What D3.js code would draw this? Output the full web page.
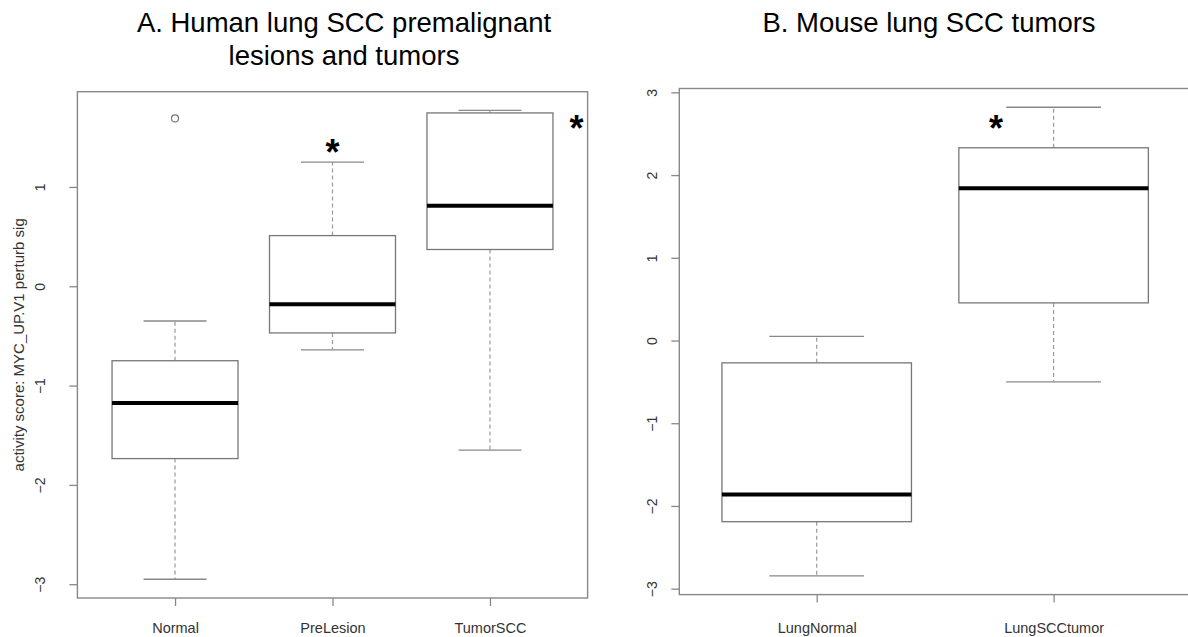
<!DOCTYPE html>
<html>
  <head>
    <meta charset="utf-8" />
    <script src="https://d3js.org/d3.v7.min.js"></script>
    <style>
      body { margin: 0; background: #fff; }
      svg text { font-family: "Liberation Sans", Arial, sans-serif; }
    </style>
  </head>
  <body>
    <div id="chart"></div>
    <script>
      // panel A: human lung SCC
      var groupsA = ['Normal', 'PreLesion', 'TumorSCC'];
      var lowA = [-2.95, -0.64, -1.65];
      var q1A = [-1.735, -0.47, 0.37];
      var medA = [-1.175, -0.18, 0.81];
      var q3A = [-0.75, 0.51, 1.745];
      var highA = [-0.35, 1.25, 1.77];
      var outGroupA = ['Normal'];
      var outValueA = [1.69];
      var ticksA = [-3, -2, -1, 0, 1];
      // stars: x in group units (1..n), y in data units
      var starXA = [2, 3.55];
      var starYA = [1.44, 1.68];

      // panel B: mouse lung SCC
      var groupsB = ['LungNormal', 'LungSCCtumor'];
      var lowB = [-2.845, -0.5];
      var q1B = [-2.19, 0.455];
      var medB = [-1.86, 1.84];
      var q3B = [-0.27, 2.33];
      var highB = [0.05, 2.82];
      var outGroupB = [];
      var outValueB = [];
      var ticksB = [-3, -2, -1, 0, 1, 2, 3];
      var starXB = [1.757];
      var starYB = [2.67];

      var width = 1188,
        height = 637;

      var svg = d3
        .select('#chart')
        .append('svg')
        .attr('width', width)
        .attr('height', height);

      function drawPanel(p) {
        var n = p.groups.length;
        // R style limits: 4% padding
        var ext = d3.extent(p.low.concat(p.high, p.outValue));
        var pad = (ext[1] - ext[0]) * 0.04;
        var y = d3
          .scaleLinear()
          .domain([ext[0] - pad, ext[1] + pad])
          .range([p.bottom, p.top]);
        var x = d3
          .scaleLinear()
          .domain([0.5 - 0.04 * n, n + 0.5 + 0.04 * n])
          .range([p.left, p.right]);

        var g = svg.append('g');
        var idx = d3.range(n);

        // whiskers
        g.selectAll('.whi')
          .data(idx)
          .join('g')
          .each(function (i) {
            var s = d3.select(this);
            var cx = x(i + 1);
            s.append('line')
              .attr('x1', cx).attr('x2', cx)
              .attr('y1', y(p.q3[i])).attr('y2', y(p.high[i]));
            s.append('line')
              .attr('x1', cx).attr('x2', cx)
              .attr('y1', y(p.q1[i])).attr('y2', y(p.low[i]));
          })
          .selectAll('line')
          .attr('stroke', '#999')
          .attr('stroke-width', 1.2)
          .attr('stroke-dasharray', '4,3');

        // caps
        [p.low, p.high].forEach(function (arr) {
          g.selectAll(null)
            .data(idx)
            .join('line')
            .attr('x1', (i) => x(i + 1 - 0.2))
            .attr('x2', (i) => x(i + 1 + 0.2))
            .attr('y1', (i) => y(arr[i]))
            .attr('y2', (i) => y(arr[i]))
            .attr('stroke', '#888')
            .attr('stroke-width', 1.3);
        });

        // boxes
        g.selectAll('.box')
          .data(idx)
          .join('rect')
          .attr('x', (i) => x(i + 1 - 0.4))
          .attr('width', (i) => x(i + 1 + 0.4) - x(i + 1 - 0.4))
          .attr('y', (i) => y(p.q3[i]))
          .attr('height', (i) => y(p.q1[i]) - y(p.q3[i]))
          .attr('fill', 'white')
          .attr('stroke', '#777')
          .attr('stroke-width', 1.3);

        // medians
        g.selectAll('.med')
          .data(idx)
          .join('line')
          .attr('x1', (i) => x(i + 1 - 0.4))
          .attr('x2', (i) => x(i + 1 + 0.4))
          .attr('y1', (i) => y(p.med[i]))
          .attr('y2', (i) => y(p.med[i]))
          .attr('stroke', '#000')
          .attr('stroke-width', 4);

        // outliers
        g.selectAll('.out')
          .data(p.outValue)
          .join('circle')
          .attr('cx', (d, j) => x(p.groups.indexOf(p.outGroup[j]) + 1))
          .attr('cy', (d) => y(d))
          .attr('r', 3.5)
          .attr('fill', 'none')
          .attr('stroke', '#777')
          .attr('stroke-width', 1.2);

        // y axis
        var ya = g
          .append('g')
          .attr('transform', 'translate(' + p.left + ',0)')
          .call(
            d3.axisLeft(y)
              .tickValues(p.ticks)
              .tickFormat(d3.format('d'))
              .tickSize(8)
              .tickSizeOuter(0)
          );
        ya.select('.domain').remove();
        ya.selectAll('line').attr('stroke', '#888').attr('stroke-width', 1.3);
        ya.selectAll('text')
          .attr('x', null)
          .attr('dy', null)
          .attr('transform', 'translate(' + -p.labelOff + ',0) rotate(-90)')
          .attr('text-anchor', 'middle')
          .attr('dominant-baseline', 'central')
          .attr('fill', '#333')
          .style('font-size', '14px');

        // x axis
        var xa = g
          .append('g')
          .attr('transform', 'translate(0,' + p.bottom + ')')
          .call(
            d3.axisBottom(x)
              .tickValues(d3.range(1, n + 1))
              .tickFormat((d) => p.groups[d - 1])
              .tickSize(8)
              .tickSizeOuter(0)
          );
        xa.select('.domain').remove();
        xa.selectAll('line').attr('stroke', '#888').attr('stroke-width', 1.3);
        xa.selectAll('text')
          .attr('y', 633 - p.bottom)
          .attr('dy', null)
          .attr('fill', '#333')
          .style('font-size', '14.5px');

        // frame
        g.append('rect')
          .attr('x', p.left)
          .attr('y', p.top)
          .attr('width', p.right - p.left)
          .attr('height', p.bottom - p.top)
          .attr('fill', 'none')
          .attr('stroke', '#888')
          .attr('stroke-width', 1.4);

        // significance stars
        g.selectAll('.star')
          .data(p.starX)
          .join('text')
          .attr('x', (d) => x(d))
          .attr('y', (d, j) => y(p.starY[j]))
          .attr('dy', '0.6em')
          .attr('text-anchor', 'middle')
          .style('font-size', '36px')
          .style('font-weight', 'bold')
          .text('*');

        // titles
        g.selectAll('.title')
          .data(p.title)
          .join('text')
          .attr('x', p.titleX)
          .attr('y', (d, j) => 32 + j * 33)
          .attr('text-anchor', 'middle')
          .style('font-size', '27.5px')
          .attr('fill', '#000')
          .text((d) => d);

        if (p.ylab) {
          g.append('text')
            .attr('transform', 'translate(18,' + (p.top + p.bottom) / 2 + ') rotate(-90)')
            .attr('text-anchor', 'middle')
            .attr('dominant-baseline', 'central')
            .attr('fill', '#333')
            .style('font-size', '15px')
            .text(p.ylab);
        }
      }

      drawPanel({
        groups: groupsA, low: lowA, q1: q1A, med: medA, q3: q3A, high: highA,
        outGroup: outGroupA, outValue: outValueA, ticks: ticksA,
        starX: starXA, starY: starYA,
        left: 77.4, right: 587.6, top: 91.7, bottom: 598, labelOff: 37,
        title: ['A. Human lung SCC premalignant', 'lesions and tumors'], titleX: 344,
        ylab: 'activity score: MYC_UP.V1 perturb sig'
      });

      drawPanel({
        groups: groupsB, low: lowB, q1: q1B, med: medB, q3: q3B, high: highB,
        outGroup: outGroupB, outValue: outValueB, ticks: ticksB,
        starX: starXB, starY: starYB,
        left: 679.3, right: 1191, top: 88.5, bottom: 594.6, labelOff: 27,
        title: ['B. Mouse lung SCC tumors'], titleX: 929,
        ylab: null
      });
    </script>
  </body>
</html>
